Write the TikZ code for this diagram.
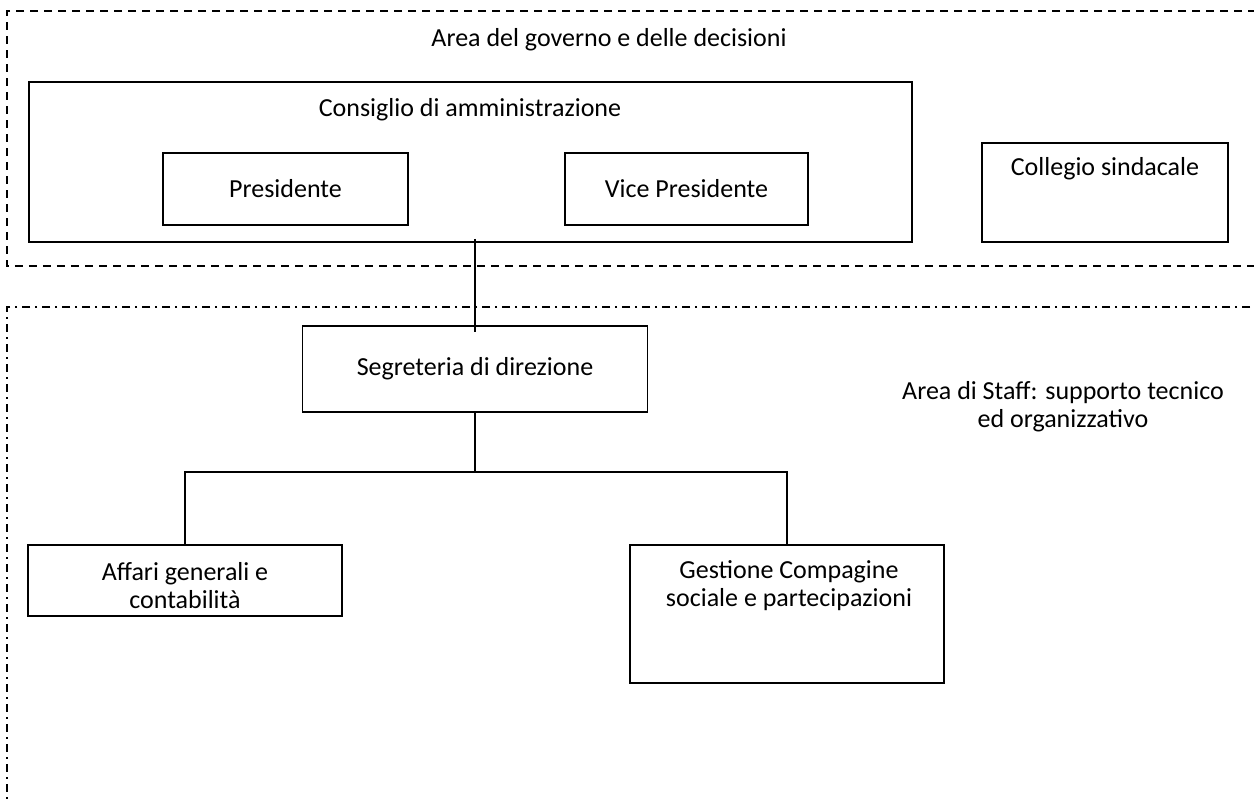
\documentclass[tikz,border=0pt]{standalone}
\usepackage{fontspec}
\setmainfont{Carlito}
\begin{document}
\begin{tikzpicture}[x=1pt,y=-1pt,
  box/.style={draw,line width=1.5pt,inner sep=0pt,font=\fontsize{26}{28}\selectfont,align=center},
  txt/.style={inner sep=0pt,font=\fontsize{26}{28}\selectfont,align=center},
  region/.style={line width=2pt,dash pattern=on 8pt off 6pt},
  regiondd/.style={line width=2pt,dash pattern=on 8pt off 5pt on 2pt off 5pt},
  conn/.style={line width=1.5pt}]
\useasboundingbox (0,0) rectangle (1254,801);
% regions
\draw[region] (1270,11) -- (7,11) -- (7,266) -- (1270,266);
\draw[regiondd] (1270,307) -- (7,307) -- (7,820);
\node[txt] (areagov) at (609,40) {Area del governo e delle decisioni};
\node[txt] (areastaff) at (1063,407) {Area di Staff: supporto tecnico\\ed organizzativo};
% boxes
\node[box,minimum width=883pt,minimum height=160pt] (cda) at (470.5,162) {};
\node[txt] (cdat) at (470,110) {Consiglio di amministrazione};
\node[box,minimum width=245pt,minimum height=72pt] (pres) at (285.5,189) {Presidente};
\node[box,minimum width=243pt,minimum height=72pt] (vice) at (686.5,189) {Vice Presidente};
\node[box,minimum width=246pt,minimum height=99pt] (coll) at (1105,192.5) {};
\node[txt] (collt) at (1105,169) {Collegio sindacale};
\node[box,minimum width=345pt,minimum height=86pt] (seg) at (475,369) {Segreteria di direzione};
\node[box,minimum width=314pt,minimum height=71pt] (aff) at (185,580.5) {};
\node[txt] (afft) at (185,586) {Affari generali e\\contabilità};
\node[box,minimum width=314pt,minimum height=138pt] (ges) at (787,614) {};
\node[txt] (gest) at (789,586) {Gestione Compagine\\sociale e partecipazioni};
% connectors
\coordinate (j) at (475,472);
\draw[conn] ([yshift=4pt]cda.south -| seg.north) -- ([yshift=-7pt]seg.north);
\draw[conn] (seg.south) -- (j);
\draw[conn] (aff.north) -- (aff.north |- j) -- (ges.north |- j) -- (ges.north);
\end{tikzpicture}
\end{document}
